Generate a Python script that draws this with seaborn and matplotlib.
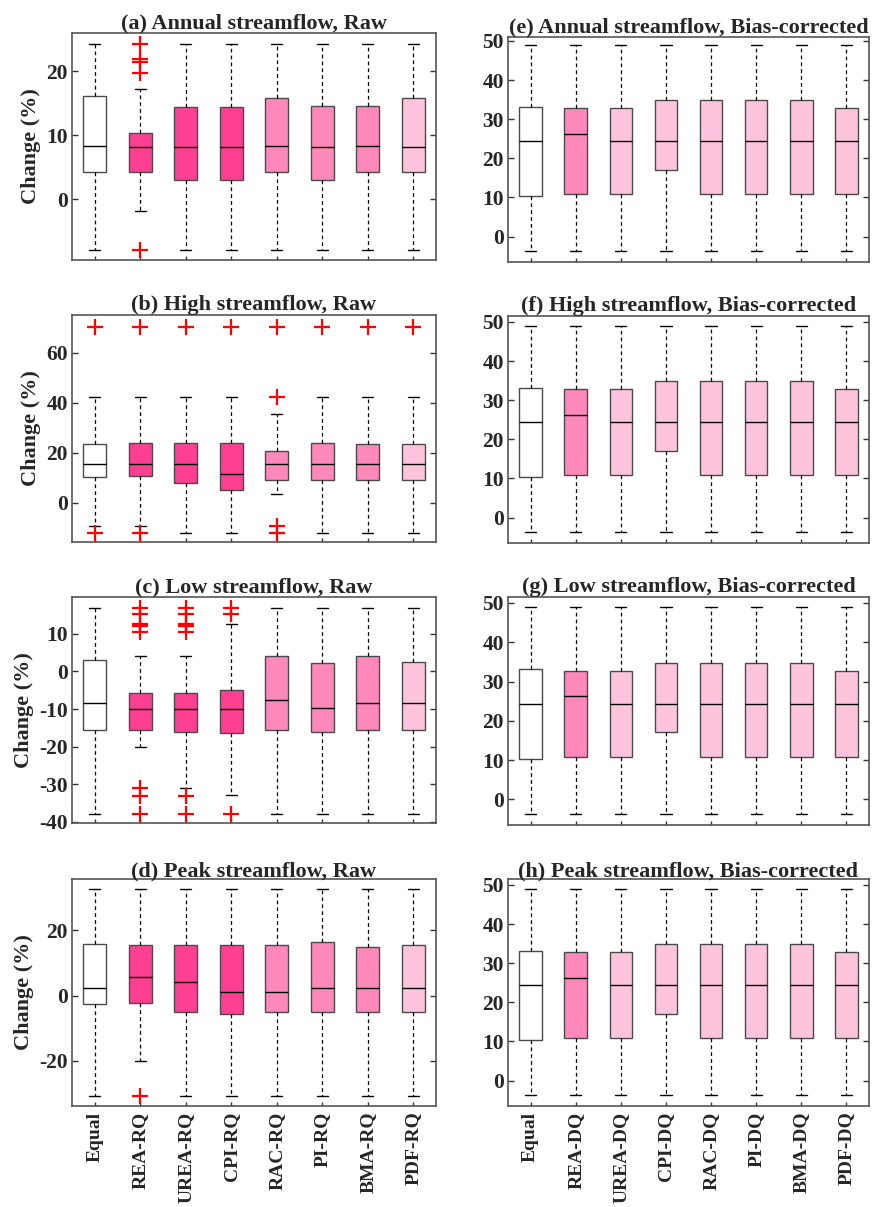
import pandas as pd
import matplotlib.pyplot as plt
import seaborn as sns

# box statistics per method: [lower whisker, q1, median, q3, upper whisker]
raw_methods = ["Equal", "REA-RQ", "UREA-RQ", "CPI-RQ", "RAC-RQ", "PI-RQ", "BMA-RQ", "PDF-RQ"]
bc_methods = ["Equal", "REA-DQ", "UREA-DQ", "CPI-DQ", "RAC-DQ", "PI-DQ", "BMA-DQ", "PDF-DQ"]

annual_raw = [
    [-8.0, 4.2, 8.4, 16.1, 24.3],
    [-1.8, 4.2, 8.2, 10.4, 17.2],
    [-8.0, 3.0, 8.2, 14.4, 24.3],
    [-8.0, 3.0, 8.2, 14.4, 24.3],
    [-8.0, 4.3, 8.4, 15.8, 24.3],
    [-8.0, 3.0, 8.2, 14.6, 24.3],
    [-8.0, 4.2, 8.4, 14.6, 24.3],
    [-8.0, 4.2, 8.2, 15.8, 24.3],
]
annual_raw_out = {"REA-RQ": [24.3, 21.9, 21.5, 19.7, -8.0]}

high_raw = [
    [-9.4, 10.1, 15.6, 23.4, 42.2],
    [-9.4, 10.6, 15.5, 23.7, 42.2],
    [-12.0, 7.8, 15.5, 23.7, 42.2],
    [-12.0, 4.9, 11.6, 23.7, 42.2],
    [3.4, 9.2, 15.5, 20.8, 35.6],
    [-12.0, 9.0, 15.5, 23.7, 42.2],
    [-12.0, 9.0, 15.5, 23.4, 42.2],
    [-12.0, 9.0, 15.5, 23.4, 42.2],
]
high_raw_out = {
    "Equal": [70.2, -12.0],
    "REA-RQ": [70.2, -12.0],
    "UREA-RQ": [70.2],
    "CPI-RQ": [70.2],
    "RAC-RQ": [70.2, 42.2, -9.4, -12.0],
    "PI-RQ": [70.2],
    "BMA-RQ": [70.2],
    "PDF-RQ": [70.2],
}

low_raw = [
    [-37.8, -15.6, -8.5, 3.0, 17.0],
    [-20.0, -15.6, -9.9, -5.8, 4.1],
    [-31.0, -16.0, -9.9, -5.8, 4.1],
    [-32.8, -16.4, -10.0, -4.9, 12.5],
    [-37.8, -15.6, -7.6, 4.1, 17.0],
    [-37.8, -16.1, -9.6, 2.3, 17.0],
    [-37.8, -15.6, -8.5, 4.1, 17.0],
    [-37.8, -15.6, -8.5, 2.6, 17.0],
]
low_raw_out = {
    "REA-RQ": [17.0, 15.3, 12.5, 12.0, 10.4, -31.0, -33.0, -37.8],
    "UREA-RQ": [17.0, 15.3, 12.5, 12.0, 10.4, -33.0, -37.8],
    "CPI-RQ": [17.0, 15.3, -37.8],
}

peak_raw = [
    [-30.8, -2.6, 2.4, 15.8, 32.7],
    [-20.1, -2.2, 5.8, 15.6, 32.7],
    [-30.8, -4.9, 4.1, 15.6, 32.7],
    [-30.8, -5.6, 1.0, 15.6, 32.7],
    [-30.8, -4.9, 1.0, 15.6, 32.7],
    [-30.8, -4.9, 2.4, 16.6, 32.7],
    [-30.8, -4.9, 2.4, 14.9, 32.7],
    [-30.8, -4.9, 2.4, 15.6, 32.7],
]
peak_raw_out = {"REA-RQ": [-30.8]}

# the bias-corrected panels show the same distributions
bc_stats = [
    [-3.7, 10.3, 24.4, 33.2, 49.0],
    [-3.7, 10.8, 26.3, 32.8, 49.0],
    [-3.7, 10.8, 24.4, 32.8, 49.0],
    [-3.7, 17.1, 24.4, 34.8, 49.0],
    [-3.7, 10.8, 24.4, 34.8, 49.0],
    [-3.7, 10.8, 24.4, 34.8, 49.0],
    [-3.7, 10.8, 24.4, 34.8, 49.0],
    [-3.7, 10.8, 24.4, 32.8, 49.0],
]

WHITE, DEEP, MID, LIGHT = "#FFFFFF", "#FF3F92", "#FF88BA", "#FFC4DD"
raw_colors = [WHITE, DEEP, DEEP, DEEP, MID, MID, MID, LIGHT]
bc_colors = [WHITE, MID, LIGHT, LIGHT, LIGHT, LIGHT, LIGHT, LIGHT]

panels = [
    # title, stats, outliers, methods, colors, ylim, yticks, (left, top, right, bottom) in px
    ("(a) Annual streamflow, Raw", annual_raw, annual_raw_out, raw_methods, raw_colors,
     (-9.5, 26), [0, 10, 20], (72, 33, 436, 260)),
    ("(b) High streamflow, Raw", high_raw, high_raw_out, raw_methods, raw_colors,
     (-15.8, 75), [0, 20, 40, 60], (72, 315, 436, 542)),
    ("(c) Low streamflow, Raw", low_raw, low_raw_out, raw_methods, raw_colors,
     (-40.3, 19.8), [-40, -30, -20, -10, 0, 10], (72, 597, 436, 823)),
    ("(d) Peak streamflow, Raw", peak_raw, peak_raw_out, raw_methods, raw_colors,
     (-33.9, 35.8), [-20, 0, 20], (72, 879, 436, 1106)),
    ("(e) Annual streamflow, Bias-corrected", bc_stats, {}, bc_methods, bc_colors,
     (-6.5, 51.0), [0, 10, 20, 30, 40, 50], (508, 37, 869, 262)),
    ("(f) High streamflow, Bias-corrected", bc_stats, {}, bc_methods, bc_colors,
     (-6.5, 51.5), [0, 10, 20, 30, 40, 50], (508, 316, 869, 543)),
    ("(g) Low streamflow, Bias-corrected", bc_stats, {}, bc_methods, bc_colors,
     (-6.5, 51.5), [0, 10, 20, 30, 40, 50], (508, 597, 869, 825)),
    ("(h) Peak streamflow, Bias-corrected", bc_stats, {}, bc_methods, bc_colors,
     (-6.5, 51.5), [0, 10, 20, 30, 40, 50], (508, 879, 869, 1106)),
]

sns.set_theme(style="white")
plt.rcParams["font.family"] = ["Liberation Serif", "DejaVu Serif"]
plt.rcParams["font.weight"] = "bold"
plt.rcParams["axes.unicode_minus"] = False

W, H = 873, 1207
fig = plt.figure(figsize=(W / 100, H / 100), dpi=100)

for i, (title, stats, outs, methods, colors, ylim, yticks, box) in enumerate(panels):
    l, t, r, b = box
    ax = fig.add_axes([l / W, 1 - b / H, (r - l) / W, (b - t) / H])

    rows = [(m, v) for m, vals in zip(methods, stats) for v in vals]
    df = pd.DataFrame(rows, columns=["method", "value"])
    sns.boxplot(
        data=df, x="method", y="value", hue="method", order=methods,
        hue_order=methods, palette=dict(zip(methods, colors)), legend=False,
        whis=(0, 100), width=0.5, linecolor="#4a4a4a", linewidth=1.0,
        saturation=1, showfliers=False, ax=ax,
        medianprops=dict(color="black", linewidth=1.0),
        whiskerprops=dict(color="black", linewidth=0.9, linestyle=(0, (3, 2.5))),
        capprops=dict(color="black", linewidth=1.0),
    )

    out_rows = [(m, v) for m, vals in outs.items() for v in vals]
    if out_rows:
        odf = pd.DataFrame(out_rows, columns=["method", "value"])
        sns.stripplot(
            data=odf, x="method", y="value", order=methods, jitter=False,
            marker="+", color="red", s=11, linewidth=1.6, ax=ax,
        )

    ax.set_xlim(-0.5, len(methods) - 0.5)
    ax.set_ylim(*ylim)
    ax.set_yticks(yticks)
    ax.set_title(title, fontsize=16, fontweight="bold", pad=2)
    ax.set_xlabel("")
    if i < 4:
        ax.set_ylabel("Change (%)", fontsize=16, fontweight="bold", labelpad=4)
    else:
        ax.set_ylabel("")
    ax.tick_params(axis="y", direction="in", length=4, width=1, color="#333333",
                   right=True, left=True, labelsize=15.5, pad=3)
    ax.tick_params(axis="x", direction="in", length=3, width=1, color="#333333",
                   bottom=True, labelsize=14, pad=4)
    if i in (3, 7):
        ax.set_xticks(range(len(methods)))
        ax.set_xticklabels(methods, rotation=90, fontweight="bold")
    else:
        ax.set_xticklabels([])
    for lab in ax.get_yticklabels():
        lab.set_fontweight("bold")
    for sp in ax.spines.values():
        sp.set_color("#555555")
        sp.set_linewidth(1.2)
        sp.set_visible(True)

fig.savefig("out.png", dpi=100)
